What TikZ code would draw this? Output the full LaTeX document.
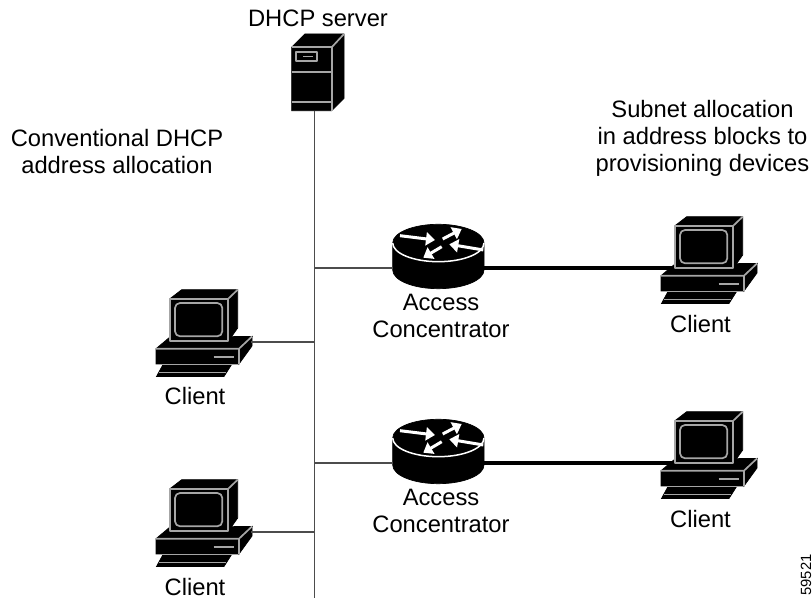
\documentclass[tikz,border=0pt]{standalone}
\usepackage{fontspec}
\setmainfont{Liberation Sans}
\usetikzlibrary{arrows.meta}

\tikzset{
  label/.style={align=center,inner sep=0pt,font=\fontsize{6.75}{7.7}\selectfont},
  icon/.style={fill=black,draw=black,line width=0.2pt},
  edge/.style={draw=white!65!black,line width=0.17mm,line join=round},
  wire/.style={black!70,line width=0.13mm},
  fatwire/.style={line width=0.4mm},
  turn/.style={white,line width=0.3mm,-{Triangle[length=0.09cm,width=0.13cm]}},
  client/.pic={
    \coordinate (-east) at (106,64);
    \coordinate (-west) at (25,63);
    % base
    \fill[icon] (11,70.7) -- (25,59) -- (107,58.5) -- (94,70.7) -- (94,86) -- (11,86) -- cycle;
    \fill[icon] (94,70.7) -- (107,58.5) -- (107,68) -- (94,86) -- cycle;
    \draw[edge] (11,70.7) -- (94,70.7) -- (107,58.5);
    \draw[edge] (94,70.7) -- (94,86);
    \draw[edge] (68.5,79) -- (89,79);
    % keyboard
    \fill[icon] (17.5,87.5) -- (86,87.5) -- (79,98.5) -- (11.5,98.5) -- cycle;
    \draw[edge] (14,94.5) -- (81,94.5);
    % monitor
    \fill[icon] (25,20.7) -- (36.7,11.7) -- (92.7,11.7) -- (92.7,50) -- (83.3,63.3) -- (25,63.3) -- cycle;
    \draw[edge] (25,20.7) rectangle (83.3,63.3);
    \draw[edge] (83.3,20.7) -- (92.7,11.7);
    \draw[edge,rounded corners=0.05cm] (30,25) rectangle (77.3,58.3);
  },
  server/.pic={
    \coordinate (-south) at (314.3,110.7);
    \fill[icon] (291.7,47.3) -- (305,34) -- (344,34) -- (344,98.3) -- (331.7,110.7) -- (291.7,110.7) -- cycle;
    \draw[edge] (291.7,47.3) -- (331.7,47.3) -- (331.7,110.7);
    \draw[edge] (331.7,47.3) -- (344,34);
    \draw[edge] (291.7,72.3) -- (331.7,72.3);
    \draw[edge] (291.7,101.7) -- (331.7,101.7);
    \draw[edge] (296,52.3) rectangle (317.3,61);
    \fill[white!65!black] (303.3,55.7) rectangle (312.7,57.3);
  },
  router/.pic={
    \coordinate (-west) at (392.7,268);
    \coordinate (-east) at (484,268);
    \fill[icon] (392.7,243) -- (392.7,270) arc[start angle=180,end angle=0,x radius=45.65,y radius=18.7]
      -- (484,243) arc[start angle=0,end angle=-180,x radius=45.65,y radius=18.7] -- cycle;
    \draw[white,line width=0.15mm] (392.7,243) arc[start angle=180,end angle=0,x radius=45.65,y radius=18.7];
    \draw[turn] (400,235.7) -- (435,240);
    \draw[turn] (442.7,239) -- (461.7,229);
    \draw[turn] (483.3,250) -- (449.3,244.3);
    \draw[turn] (441.7,246.7) -- (423.3,257.7);
  }
}

\begin{document}
\begin{tikzpicture}[x=0.01cm,y=-0.01cm]

\useasboundingbox (0,0) rectangle (812,598);

\coordinate (S) at (0,0);
\coordinate (BUS) at (314.3,598);

% wires first, icons lie on top
\pic (srv) at (S) {server};
\draw[wire] (srv-south) -- (BUS);

\pic (ra) at (0,0) {router};
\pic (rb) at (0,195) {router};

\draw[wire] (ra-west) -- (ra-west -| BUS);
\draw[wire] (rb-west) -- (rb-west -| BUS);

\draw[fatwire] (ra-east) -- ++(190,0) coordinate (pa-west);
\draw[fatwire] (rb-east) -- ++(190,0) coordinate (pb-west);

\pic (pa) at (650,205) {client};
\pic (pb) at (650,400) {client};
\pic (pc) at (145,278) {client};
\pic (pd) at (145,468) {client};

\draw[wire] (pc-east) -- (pc-east -| BUS);
\draw[wire] (pd-east) -- (pd-east -| BUS);

\node[label] (t1) at (318,18) {DHCP server};
\node[label] (t2) at (117,151.5) {Conventional DHCP\\address allocation};
\node[label] (t3) at (702.5,138) {Subnet allocation\\in address blocks to\\provisioning devices};
\node[label] (t4) at (441,316) {Access\\Concentrator};
\node[label] (t5) at (441,511) {Access\\Concentrator};
\node[label] (t6) at (700.5,324) {Client};
\node[label] (t7) at (700.5,519) {Client};
\node[label] (t8) at (195,396) {Client};
\node[label] (t9) at (195,587) {Client};
\node[label,rotate=90,font=\fontsize{4.2}{4.5}\selectfont] (t10) at (806,575) {59521};

\end{tikzpicture}
\end{document}
